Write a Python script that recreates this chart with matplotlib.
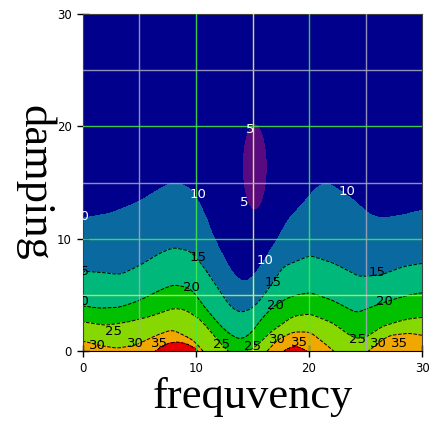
import numpy as np
import matplotlib
matplotlib.use('Agg')
from matplotlib import pyplot as plt
from matplotlib.colors import ListedColormap, BoundaryNorm

# contour heights (damping), per level, as (frequency, damping)
c10_x = [0, 2.6, 5, 7.1, 8.1, 9.5, 10.6, 11.5, 12.4, 13.3, 14.2, 15.0, 15.7, 17.2, 18.3, 19.2, 20.7, 21.6, 23.6, 25.4, 26.5, 28.3, 30]
c10_y = [11.8, 12.3, 13.3, 14.6, 15.0, 14.5, 12.6, 10.2, 8.4, 6.8, 6.1, 6.5, 7.5, 9.9, 11.9, 12.8, 14.6, 15.0, 13.7, 12.1, 11.8, 12.1, 12.5]

c15_x = [0, 1.5, 3.3, 5.0, 6.8, 8.0, 9.5, 10.6, 12.0, 13.0, 13.9, 15.0, 15.9, 16.8, 17.7, 20.1, 22.2, 24.5, 26.5, 28.3, 30]
c15_y = [7.1, 7.0, 6.8, 7.6, 8.7, 9.2, 8.9, 7.6, 5.5, 4.0, 3.4, 3.8, 4.8, 6.1, 7.5, 8.5, 7.8, 6.6, 6.8, 7.5, 7.8]

c20_x = [0, 1.5, 3.3, 5, 6.8, 8.0, 9.5, 11.0, 12.2, 13.0, 13.9, 14.8, 15.9, 17.0, 18.5, 20.1, 22.1, 24.2, 26.5, 28.5, 30]
c20_y = [4.0, 3.8, 3.9, 4.5, 5.4, 5.9, 5.6, 3.6, 2.2, 1.5, 1.0, 1.5, 3.0, 4.1, 4.9, 5.2, 4.5, 3.4, 4.3, 4.9, 5.2]

c25_x = [0, 2, 4, 6, 8, 9, 10.4, 12.1, 12.8, 13.7, 14.6, 15.4, 16.5, 18.6, 20.1, 22.1, 23.6, 24.3, 25, 26.5, 28.5, 30]
c25_y = [2.6, 2.3, 2.6, 3.1, 3.8, 3.7, 2.8, 0.8, 0.0, -0.5, 0.0, 0.5, 1.6, 3.1, 3.3, 2.5, 1.4, 1.1, 1.2, 2.2, 2.8, 3.0]

c30_x = [0, 1.5, 3, 4.6, 6.5, 7.9, 9.7, 10.6, 11.5, 13, 15, 16, 17.2, 18.6, 20.1, 21.6, 22.5, 24, 25.5, 26.1, 27.1, 28.9, 30]
c30_y = [0.9, 0.5, 0.25, 0.5, 1.4, 1.9, 1.0, 0.0, -1, -3, -3, -0.3, 1.0, 1.7, 1.7, 0.5, -0.3, -1, 0.2, 0.7, 1.4, 1.6, 1.4]

c35_x = [0, 5, 6.4, 7.3, 8.3, 9.3, 10.3, 11, 13, 16, 17.6, 18.8, 19.9, 21, 24, 26.5, 27.5, 28.5, 29.3, 30]
c35_y = [-1.5, -1, 0, 0.65, 0.85, 0.65, 0, -1.5, -5, -4, 0, 0.5, 0, -1, -2, -0.5, -0.1, -0.1, -0.4, -0.6]

top_value = 6.0      # value at damping = 30
bottom_value = 45.0  # value below the axis

# the small low pocket (< 5) near frequency 15
pocket_center = (15.2, 16.4)
pocket_radius = (1.1, 3.85)

levels = [0, 5, 10, 15, 20, 25, 30, 35, 50]
colors = ['#5a0a80', '#00008c', '#0a6aa0', '#00b87a', '#00c000', '#86d800', '#f0a800', '#e80000']

# build the field column by column from the contour heights
xf = np.linspace(0, 30, 301)
yf = np.linspace(-6, 30, 361)

def heights(cx, cy):
    h = np.interp(xf, cx, cy)
    w = 9
    hp = np.pad(h, w // 2, mode='edge')
    return np.convolve(hp, np.ones(w) / w, mode='valid')

H = [heights(c35_x, c35_y), heights(c30_x, c30_y), heights(c25_x, c25_y),
     heights(c20_x, c20_y), heights(c15_x, c15_y), heights(c10_x, c10_y)]
Z = np.zeros((len(yf), len(xf)))
for j in range(len(xf)):
    ys = [-6] + [h[j] for h in H] + [30]
    zs = [bottom_value, 35, 30, 25, 20, 15, 10, top_value]
    Z[:, j] = np.interp(yf, ys, zs)

X, Y = np.meshgrid(xf, yf)
r2 = ((X - pocket_center[0]) / pocket_radius[0]) ** 2 + ((Y - pocket_center[1]) / pocket_radius[1]) ** 2
Z = np.minimum(Z, 5 + 3 * (r2 - 1))

fig = plt.figure(figsize=(4.32, 4.23), dpi=100)
ax = fig.add_axes([0.192, 0.170, 0.785, 0.797])

cmap = ListedColormap(colors)
norm = BoundaryNorm(levels, cmap.N)
ax.contourf(X, Y, Z, levels=levels, cmap=cmap, norm=norm, zorder=1)
ax.contour(X, Y, Z, levels=[15, 20, 25, 30, 35], colors='k', linestyles='--', linewidths=0.7, zorder=2)

# grid lines
for v, c in [(5, '#a8a8c0'), (10, '#44ee44'), (15, '#ffff70'), (20, '#44ee44'), (25, '#a8a8c0')]:
    ax.axvline(v, color=c, lw=1, alpha=0.85, zorder=3)
for v, c in [(5, '#c8f060'), (10, '#44ee44'), (15, '#a8a8c0'), (20, '#44ee44'), (25, '#a8a8c0')]:
    ax.axhline(v, color=c, lw=1, alpha=0.85, zorder=3)

# contour labels
white_labels = [(-0.2, 12.0, '10'), (10.2, 13.9, '10'), (16.1, 8.1, '10'), (23.4, 14.2, '10'),
                (14.8, 19.7, '5'), (14.3, 13.2, '5')]
black_labels = [(-0.2, 7.1, '15'), (10.2, 8.3, '15'), (16.8, 6.1, '15'), (26.0, 7.0, '15'),
                (-0.2, 4.4, '20'), (9.6, 5.7, '20'), (17.0, 4.1, '20'), (26.7, 4.4, '20'),
                (2.7, 1.7, '25'), (12.3, 0.55, '25'), (15.0, 0.45, '25'), (24.3, 1.0, '25'),
                (1.3, 0.5, '30'), (4.6, 0.7, '30'), (17.2, 1.0, '30'), (26.1, 0.7, '30'),
                (6.8, 0.7, '35'), (19.2, 0.8, '35'), (28.0, 0.7, '35')]
for x, y, s in white_labels:
    ax.text(x, y, s, color='white', fontsize=9.5, ha='center', va='center', zorder=4, clip_on=True)
for x, y, s in black_labels:
    ax.text(x, y, s, color='black', fontsize=9.5, ha='center', va='center', zorder=4, clip_on=True)

ax.set_xlim(0, 30)
ax.set_ylim(0, 30)
ax.set_xticks([0, 10, 20, 30])
ax.set_yticks([0, 10, 20, 30])
ax.tick_params(direction='inout', length=8, width=1, labelsize=8.5, pad=4)
for sp in ax.spines.values():
    sp.set_color('#404040')
ax.spines['bottom'].set_color('black')

ax.set_xlabel('frequvency', fontsize=32, family='Liberation Serif', labelpad=1)
ax.set_ylabel('damping', fontsize=32, family='Liberation Serif', rotation=270, va='center', ha='center')
ax.yaxis.set_label_coords(-0.142, 0.50)

fig.savefig('out.png', dpi=100)
